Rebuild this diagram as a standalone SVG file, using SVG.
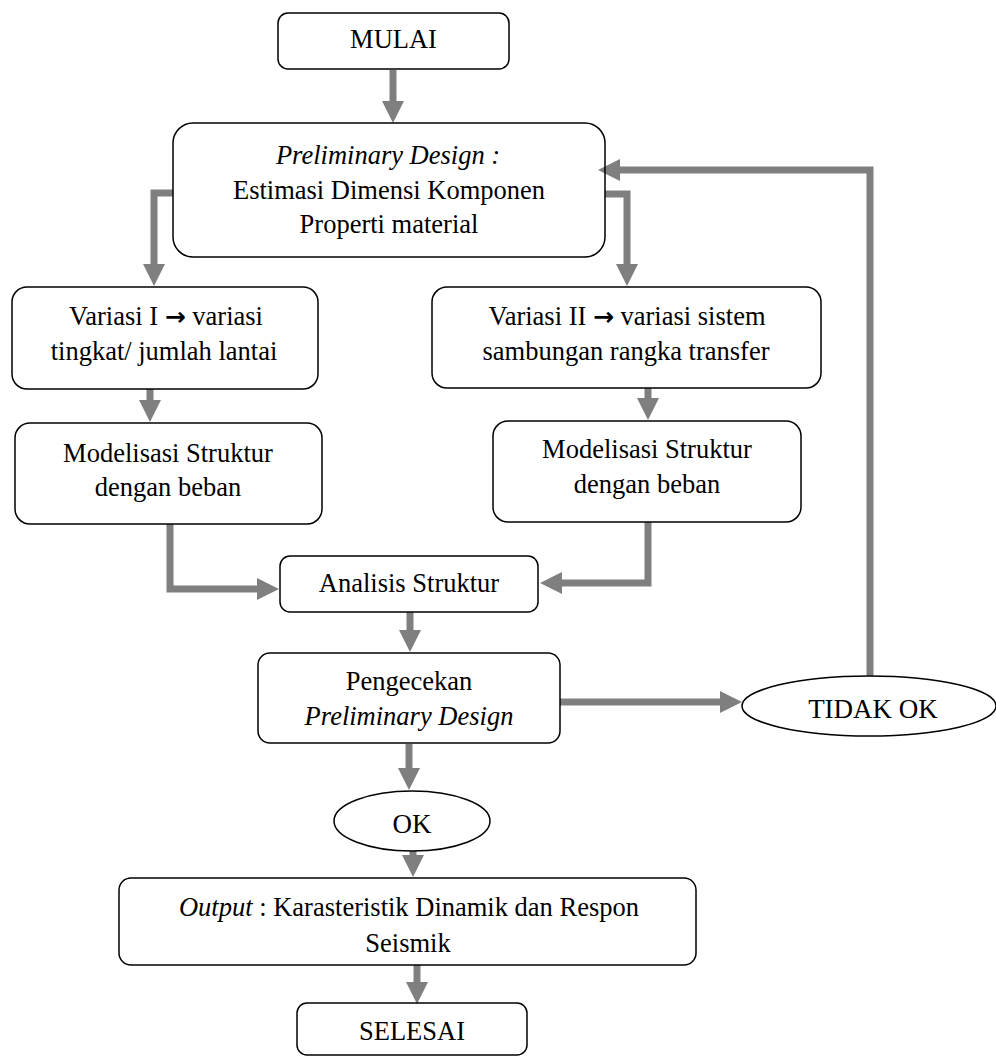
<svg xmlns="http://www.w3.org/2000/svg" width="996" height="1057" viewBox="0 0 996 1057">
<style>
.box{fill:none;stroke:#000;stroke-width:1.5}
.t{font-family:"Liberation Serif","Times New Roman",serif;font-size:26.5px;fill:#000;text-anchor:middle}
.i{font-style:italic}
.ar{font-family:"DejaVu Sans",sans-serif;font-size:25px;font-weight:bold}
.c{fill:none;stroke:#7f7f7f;stroke-width:7;stroke-linejoin:miter}
</style>
<defs>
<marker id="ah" markerUnits="userSpaceOnUse" markerWidth="22" markerHeight="22" viewBox="0 0 22 22" refX="3" refY="11" orient="auto">
<path d="M0,0 L22,11 L0,22 z" fill="#7f7f7f"/>
</marker>
</defs>
<rect width="996" height="1057" fill="#fff"/>
<g id="connectors">
<path class="c" marker-end="url(#ah)" d="M393,70 V104"/>
<path class="c" marker-end="url(#ah)" d="M173,193 H154 V267"/>
<path class="c" marker-end="url(#ah)" d="M605,194 H627 V267"/>
<path class="c" marker-end="url(#ah)" d="M150,389 V403"/>
<path class="c" marker-end="url(#ah)" d="M648,388 V401"/>
<path class="c" marker-end="url(#ah)" d="M170,524 V589 H260"/>
<path class="c" marker-end="url(#ah)" d="M648,522 V583 H559"/>
<path class="c" marker-end="url(#ah)" d="M410,612 V633"/>
<path class="c" marker-end="url(#ah)" d="M560,702 H723"/>
<path class="c" marker-end="url(#ah)" d="M870,676 V170 H617"/>
<path class="c" marker-end="url(#ah)" d="M409,744 V771"/>
<path class="c" marker-end="url(#ah)" d="M413,851 V858"/>
<path class="c" marker-end="url(#ah)" d="M417,965 V985"/>
</g>
<g id="mulai">
<rect class="box" x="278" y="13" width="231" height="56" rx="10"/>
<text class="t" x="393.5" y="48">MULAI</text>
</g>
<g id="preliminary">
<rect class="box" x="173" y="123" width="432" height="134" rx="20"/>
<text class="t i" x="388" y="164">Preliminary Design :</text>
<text class="t" x="389" y="199">Estimasi Dimensi Komponen</text>
<text class="t" x="389" y="233">Properti material</text>
</g>
<g id="variasi1">
<rect class="box" x="12" y="287" width="306" height="102" rx="15"/>
<text class="t" x="166" y="325">Variasi I <tspan class="ar">→</tspan> variasi</text>
<text class="t" x="164" y="360">tingkat/ jumlah lantai</text>
</g>
<g id="variasi2">
<rect class="box" x="432" y="287" width="389" height="101" rx="15"/>
<text class="t" x="627" y="325">Variasi II <tspan class="ar">→</tspan> variasi sistem</text>
<text class="t" x="626" y="360">sambungan rangka transfer</text>
</g>
<g id="model1">
<rect class="box" x="15" y="423" width="307" height="101" rx="15"/>
<text class="t" x="168" y="462">Modelisasi Struktur</text>
<text class="t" x="168" y="496">dengan beban</text>
</g>
<g id="model2">
<rect class="box" x="493" y="421" width="308" height="101" rx="15"/>
<text class="t" x="647" y="458">Modelisasi Struktur</text>
<text class="t" x="647" y="493">dengan beban</text>
</g>
<g id="analisis">
<rect class="box" x="280" y="556" width="258" height="56" rx="10"/>
<text class="t" x="409" y="592">Analisis Struktur</text>
</g>
<g id="pengecekan">
<rect class="box" x="258" y="653" width="302" height="90" rx="12"/>
<text class="t" x="409" y="690">Pengecekan</text>
<text class="t i" x="409" y="725">Preliminary Design</text>
</g>
<g id="tidakok">
<ellipse class="box" cx="869" cy="706" rx="127" ry="30"/>
<text class="t" x="873" y="718" style="font-size:27px">TIDAK OK</text>
</g>
<g id="ok">
<ellipse class="box" cx="412" cy="821" rx="78" ry="30"/>
<text class="t" x="412" y="833" style="font-size:27px">OK</text>
</g>
<g id="output">
<rect class="box" x="119" y="878" width="577" height="87" rx="12"/>
<text class="t" x="409" y="916"><tspan class="i">Output</tspan> : Karasteristik Dinamik dan Respon</text>
<text class="t" x="408" y="952">Seismik</text>
</g>
<g id="selesai">
<rect class="box" x="297" y="1003" width="230" height="52" rx="10"/>
<text class="t" x="412" y="1040">SELESAI</text>
</g>
</svg>
